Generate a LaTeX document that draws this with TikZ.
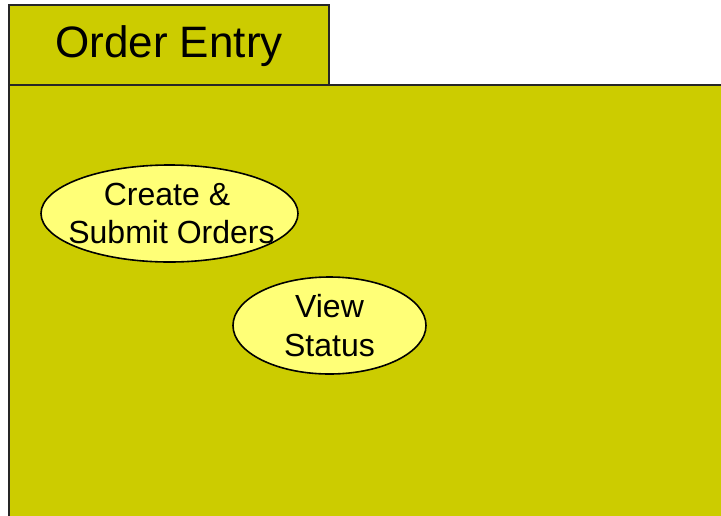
\documentclass[tikz,border=0pt]{standalone}
\usepackage{fontspec}
\setmainfont{Liberation Sans}
\usetikzlibrary{shapes.geometric}
\definecolor{pkgolive}{RGB}{204,204,0}
\definecolor{ucyellow}{RGB}{255,255,119}
\tikzset{
  pkgpart/.style={draw=black!85, line width=2pt, fill=pkgolive},
  usecase/.style={ellipse, draw=black, line width=1.6pt, fill=ucyellow, inner sep=0pt},
  uclabel/.style={align=center, inner sep=0pt, font=\fontsize{32}{38.5}\selectfont},
}
\begin{document}
\begin{tikzpicture}[x=1pt, y=-1pt]
  \useasboundingbox (0,0) rectangle (721,515);
  \clip (0,0) rectangle (721,515);
  \fill[white] (0,0) rectangle (721,515);
  % package tab and body
  \draw[pkgpart] (9,5) rectangle (329,85);
  \draw[pkgpart] (9,85) rectangle (740,540);
  \node[font=\fontsize{44}{50}\selectfont] (title) at (169,46) {Order Entry};
  % use cases
  \node[usecase, minimum width=257pt, minimum height=97pt] (create) at (169.5,213.5) {};
  \node[uclabel] (createlbl) at (171.5,213.5) {Create \&\hspace*{0.28em}\\Submit Orders};
  \node[usecase, minimum width=193pt, minimum height=97pt] (view) at (329.5,325.5) {};
  \node[uclabel] (viewlbl) at (view.center) {View\\Status};
\end{tikzpicture}
\end{document}
